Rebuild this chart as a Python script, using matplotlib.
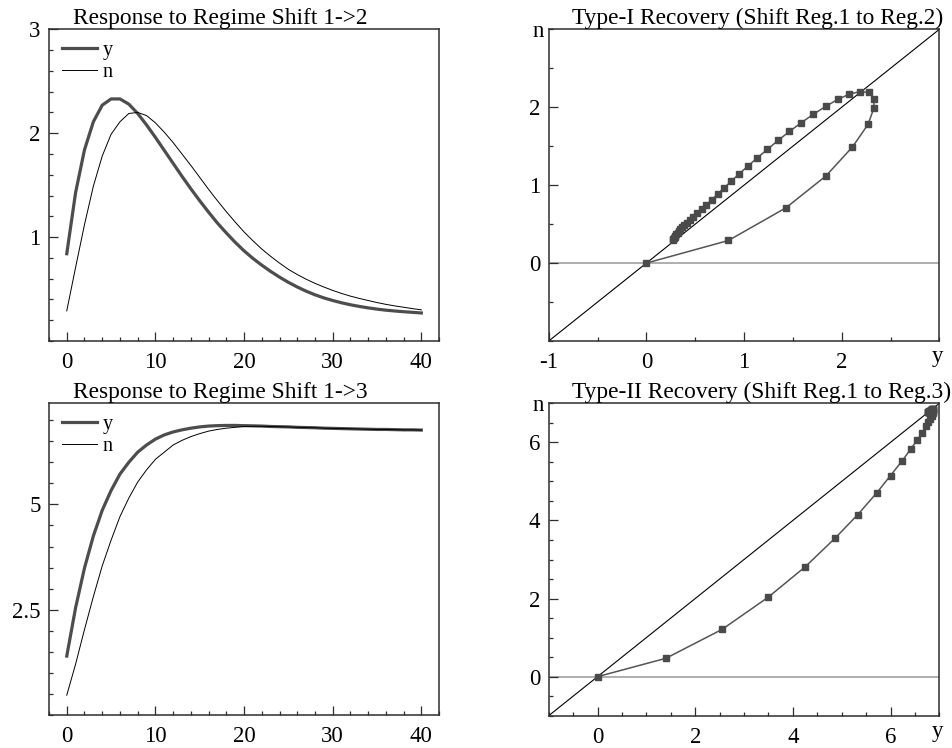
import numpy as np
import matplotlib
matplotlib.use("Agg")
import matplotlib.pyplot as plt
from matplotlib.ticker import MultipleLocator

plt.rcParams['font.family'] = ['Liberation Serif', 'DejaVu Serif']

# Time axis (periods after the shift)
periods = list(range(41))

# Regime shift 1 -> 2 (type-I recovery)
y_shift12 = [0.84, 1.43, 1.84, 2.11, 2.27, 2.33, 2.33, 2.28, 2.19, 2.08,
             1.96, 1.835, 1.71, 1.585, 1.465, 1.35, 1.24, 1.135, 1.04, 0.95,
             0.868, 0.795, 0.73, 0.67, 0.615, 0.565, 0.52, 0.48, 0.445, 0.415,
             0.39, 0.368, 0.349, 0.333, 0.319, 0.307, 0.297, 0.289, 0.282, 0.276,
             0.27]
n_shift12 = [0.29, 0.71, 1.12, 1.49, 1.78, 1.99, 2.11, 2.19, 2.20, 2.17,
             2.10, 2.01, 1.91, 1.80, 1.69, 1.575, 1.46, 1.35, 1.245, 1.145,
             1.05, 0.965, 0.885, 0.815, 0.75, 0.69, 0.64, 0.595, 0.555, 0.52,
             0.487, 0.458, 0.432, 0.41, 0.39, 0.37, 0.353, 0.338, 0.325, 0.312,
             0.30]

# Regime shift 1 -> 3 (type-II recovery)
y_shift13 = [1.40, 2.55, 3.49, 4.25, 4.86, 5.33, 5.72, 6.00, 6.24, 6.41,
             6.55, 6.65, 6.72, 6.77, 6.81, 6.84, 6.86, 6.87, 6.875, 6.875,
             6.87, 6.865, 6.86, 6.85, 6.845, 6.84, 6.83, 6.825, 6.82, 6.81,
             6.805, 6.80, 6.795, 6.79, 6.785, 6.78, 6.78, 6.775, 6.77, 6.77,
             6.765]
n_shift13 = [0.47, 1.21, 2.03, 2.81, 3.54, 4.15, 4.71, 5.15, 5.53, 5.82,
             6.07, 6.24, 6.41, 6.52, 6.61, 6.68, 6.74, 6.78, 6.81, 6.83,
             6.85, 6.855, 6.855, 6.85, 6.845, 6.84, 6.83, 6.825, 6.82, 6.81,
             6.805, 6.80, 6.795, 6.79, 6.785, 6.78, 6.78, 6.775, 6.77, 6.77,
             6.765]

# pre-shift steady state (origin of the phase plots)
start_point = [0.0]

THICK = '#4d4d4d'
SPINE = '#2e2e2e'


def style_axes(ax):
    for s in ax.spines.values():
        s.set_color(SPINE)
        s.set_linewidth(1.1)
    ax.tick_params(which='both', direction='in', top=False, right=False,
                   labelsize=16.5, color=SPINE, width=0.9)
    ax.tick_params(which='major', length=6.5, pad=6)
    ax.tick_params(which='minor', length=3.2)
    ax.tick_params(axis='x', pad=8)


def add_title(ax, text):
    ax.annotate(text, xy=(0, 1), xycoords='axes fraction', xytext=(17, 3.5),
                textcoords='offset points', ha='left', va='baseline',
                fontsize=16.8)


def response_panel(ax, yv, nv, title, yticks, ymax, yminor):
    ax.plot(periods, yv, color=THICK, lw=2.3, label='y')
    ax.plot(periods, nv, color='black', lw=0.7, label='n')
    ax.set_xlim(-2, 42)
    ax.set_ylim(0, ymax)
    ax.set_xticks([0, 10, 20, 30, 40])
    ax.xaxis.set_minor_locator(MultipleLocator(2))
    ax.set_yticks(yticks)
    ax.yaxis.set_minor_locator(MultipleLocator(yminor))
    style_axes(ax)
    add_title(ax, title)
    ax.legend(loc='upper left', bbox_to_anchor=(0.034, 0.962), frameon=False,
              fontsize=14.5, handlelength=1.7, handletextpad=0.3,
              labelspacing=0.12, borderpad=0, borderaxespad=0)


def phase_panel(ax, yv, nv, title, lo, hi, xticks, yticks):
    ax.plot([lo, hi], [lo, hi], color='black', lw=0.8, zorder=2)
    ax.axhline(0, color='#a8a8a8', lw=1.3, zorder=1)
    px = start_point + list(yv)
    py = start_point + list(nv)
    ax.plot(px, py, color='#555555', lw=1.1, marker='s', markersize=5,
            markerfacecolor='#4a4a4a', markeredgecolor='#4a4a4a', zorder=3)
    ax.set_xlim(lo, hi)
    ax.set_ylim(lo, hi)
    ax.set_xticks(xticks)
    ax.set_yticks(yticks)
    ax.xaxis.set_minor_locator(MultipleLocator(0.5))
    ax.yaxis.set_minor_locator(MultipleLocator(0.5))
    style_axes(ax)
    add_title(ax, title)
    ax.annotate('n', xy=(0, 1), xycoords='axes fraction', xytext=(-7.5, -1.5),
                textcoords='offset points', ha='center', va='center',
                fontsize=16.5)
    ax.annotate('y', xy=(1, 0), xycoords='axes fraction', xytext=(-1.5, -11.5),
                textcoords='offset points', ha='center', va='center',
                fontsize=16.5)


fig = plt.figure(figsize=(9.52, 7.48), dpi=100)
ax1 = fig.add_axes([0.0515, 0.5441, 0.4097, 0.4167])
ax2 = fig.add_axes([0.5764, 0.5441, 0.4103, 0.4167])
ax3 = fig.add_axes([0.0515, 0.0441, 0.4097, 0.4167])
ax4 = fig.add_axes([0.5764, 0.0432, 0.4103, 0.4176])

response_panel(ax1, y_shift12, n_shift12, 'Response to Regime Shift 1->2',
               [1, 2, 3], 3, 0.2)
response_panel(ax3, y_shift13, n_shift13, 'Response to Regime Shift 1->3',
               [2.5, 5], 7.4, 0.5)
ax3.set_yticklabels(['2.5', '5'])

phase_panel(ax2, y_shift12, n_shift12, 'Type-I Recovery (Shift Reg.1 to Reg.2)',
            -1, 3, [-1, 0, 1, 2], [0, 1, 2])
ax2.set_xticklabels(['-1', '0', '1', '2'])
phase_panel(ax4, y_shift13, n_shift13, 'Type-II Recovery (Shift Reg.1 to Reg.3)',
            -1, 7, [0, 2, 4, 6], [0, 2, 4, 6])

fig.savefig('out.png', dpi=100)
